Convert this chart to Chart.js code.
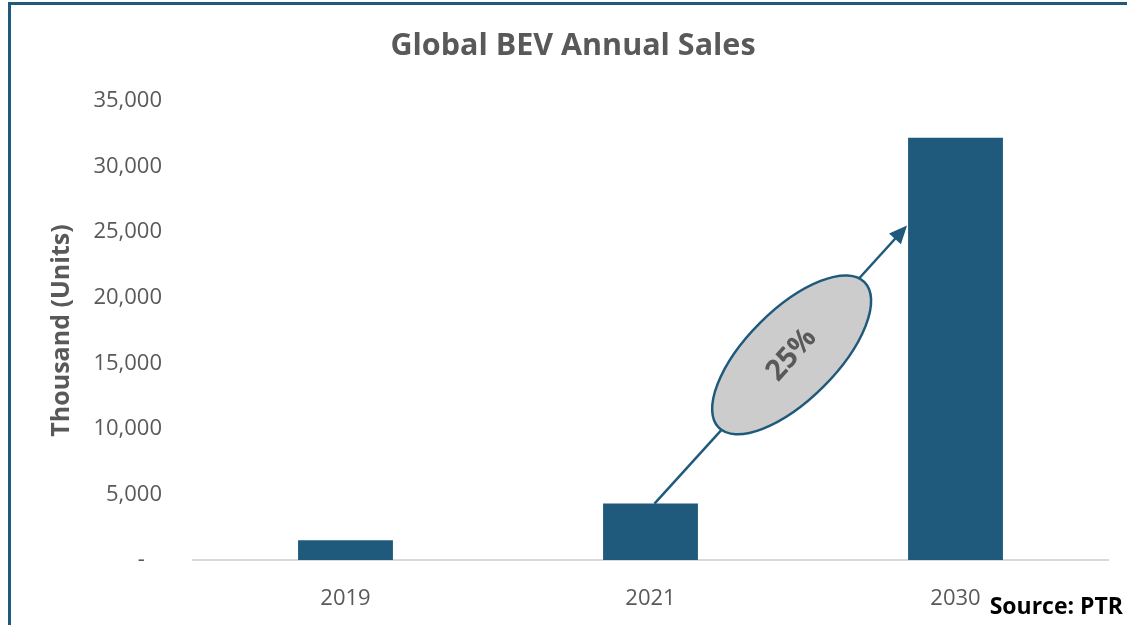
<!DOCTYPE html>
<html>
<head>
<meta charset="utf-8">
<script src="https://cdn.jsdelivr.net/npm/chart.js@4/dist/chart.umd.min.js"></script>
<style>
html,body{margin:0;padding:0;background:#fff;}
#wrap{width:1127px;height:625px;position:relative;}
</style>
</head>
<body>
<div id="wrap"><canvas id="c" width="1127" height="625"></canvas></div>
<script>
// ---- data ----
const categories = ['2019', '2021', '2030'];
const salesThousandUnits = [1500, 4300, 32200];
const yTickValues = [0, 5000, 10000, 15000, 20000, 25000, 30000, 35000];
const chartTitle = 'Global BEV Annual Sales';
const yAxisTitle = 'Thousand (Units)';
const sourceNote = 'Source: PTR';
const cagrLabel = '25%';
const cagrFromValue = 4300;   // top of 2021 bar
const cagrToValue = 25500;    // arrow tip at 2030 bar

const BLUE = '#1F5A7C';
const GREY_TEXT = '#595959';
const FONT = "'Open Sans', 'DejaVu Sans', sans-serif";

const framePlugin = {
  id: 'frame',
  beforeDraw(chart) {
    const ctx = chart.ctx;
    ctx.save();
    ctx.fillStyle = '#ffffff';
    ctx.fillRect(0, 0, chart.width, chart.height);
    ctx.strokeStyle = BLUE;
    ctx.lineWidth = 3;
    ctx.beginPath();
    ctx.moveTo(9.5, chart.height);
    ctx.lineTo(9.5, 3.5);
    ctx.lineTo(chart.width, 3.5);
    ctx.stroke();
    ctx.restore();
  },
  afterDraw(chart) {
    const ctx = chart.ctx;
    ctx.save();
    // chart title
    ctx.fillStyle = GREY_TEXT;
    ctx.font = "bold 30.5px " + FONT;
    ctx.textAlign = 'center';
    ctx.textBaseline = 'middle';
    ctx.fillText(chartTitle, 573, 46);
    // source note
    ctx.fillStyle = '#000000';
    ctx.font = "bold 23px " + FONT;
    ctx.textAlign = 'right';
    ctx.fillText(sourceNote, 1123, 607);
    ctx.restore();
  }
};

const cagrPlugin = {
  id: 'cagr',
  afterDatasetsDraw(chart) {
    const ctx = chart.ctx;
    const ys = chart.scales.y;
    const bars = chart.getDatasetMeta(0).data;
    const fromIdx = categories.indexOf('2021');
    const toIdx = categories.indexOf('2030');
    const x0 = bars[fromIdx].x + 4;
    const y0 = ys.getPixelForValue(cagrFromValue);
    const x1 = bars[toIdx].x - bars[toIdx].width / 2 - 1;
    const y1 = ys.getPixelForValue(cagrToValue);
    const ang = Math.atan2(y1 - y0, x1 - x0);
    const headLen = 18, headW = 8;
    ctx.save();
    ctx.strokeStyle = BLUE;
    ctx.fillStyle = BLUE;
    ctx.lineWidth = 2.5;
    ctx.beginPath();
    ctx.moveTo(x0, y0);
    ctx.lineTo(x1 - Math.cos(ang) * headLen * 0.8, y1 - Math.sin(ang) * headLen * 0.8);
    ctx.stroke();
    ctx.beginPath();
    ctx.moveTo(x1, y1);
    ctx.lineTo(x1 - Math.cos(ang) * headLen - Math.sin(ang) * headW, y1 - Math.sin(ang) * headLen + Math.cos(ang) * headW);
    ctx.lineTo(x1 - Math.cos(ang) * headLen + Math.sin(ang) * headW, y1 - Math.sin(ang) * headLen - Math.cos(ang) * headW);
    ctx.closePath();
    ctx.fill();
    // ellipse
    const t = 0.535;
    const cx = x0 + (x1 - x0) * t + 2;
    const cy = y0 + (y1 - y0) * t;
    ctx.beginPath();
    ctx.ellipse(cx, cy, 103, 45, -45 * Math.PI / 180, 0, Math.PI * 2);
    ctx.fillStyle = '#CCCCCC';
    ctx.fill();
    ctx.lineWidth = 2.5;
    ctx.strokeStyle = BLUE;
    ctx.stroke();
    // label
    ctx.translate(cx, cy);
    ctx.rotate(-48 * Math.PI / 180);
    ctx.fillStyle = GREY_TEXT;
    ctx.font = "bold 29px " + FONT;
    ctx.textAlign = 'center';
    ctx.textBaseline = 'middle';
    ctx.fillText(cagrLabel, 0, 0);
    ctx.restore();
  }
};

new Chart(document.getElementById('c'), {
  type: 'bar',
  data: {
    labels: categories,
    datasets: [{
      data: salesThousandUnits,
      backgroundColor: BLUE,
      borderWidth: 0,
      categoryPercentage: 1,
      barPercentage: 0.311
    }]
  },
  options: {
    responsive: false,
    devicePixelRatio: 1,
    animation: false,
    layout: { padding: { left: 10, right: 19, top: 101, bottom: 0 } },
    plugins: {
      legend: { display: false },
      tooltip: { enabled: false },
      title: { display: false }
    },
    scales: {
      x: {
        grid: { display: false, drawTicks: false },
        border: { display: true, color: '#D9D9D9', width: 2 },
        ticks: { color: GREY_TEXT, font: { family: FONT, size: 22 }, padding: 26 },
        afterFit(scale) { scale.height = 65; }
      },
      y: {
        min: 0,
        max: 35000,
        afterBuildTicks(scale) { scale.ticks = yTickValues.map(v => ({ value: v })); },
        grid: { display: false, drawTicks: false },
        border: { display: false },
        ticks: {
          color: GREY_TEXT,
          font: { family: FONT, size: 22 },
          padding: 31,
          callback: v => v === 0 ? '-   ' : v.toLocaleString('en-US')
        },
        title: {
          display: true,
          text: yAxisTitle,
          color: GREY_TEXT,
          font: { family: FONT, size: 25, weight: 'bold' },
          padding: { top: 37, bottom: 0 }
        },
        afterFit(scale) { scale.width = 183; }
      }
    }
  },
  plugins: [framePlugin, cagrPlugin]
});
</script>
</body>
</html>
